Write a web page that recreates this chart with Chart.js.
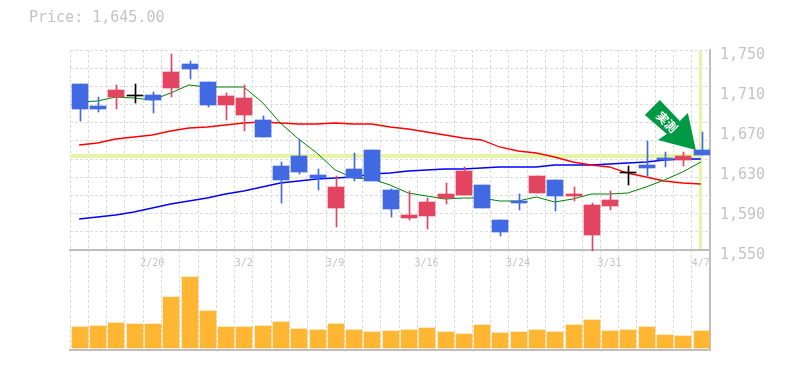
<!DOCTYPE html>
<html>
<head>
<meta charset="utf-8">
<script src="https://cdn.jsdelivr.net/npm/chart.js@4"></script>
<style>
  body { margin: 0; background: #fff; }
  canvas { display: block; }
</style>
</head>
<body>
<canvas id="stock-chart" width="785" height="370"></canvas>
<script>
const dates = ['', '', '', '', '2/20', '', '', '', '', '3/2', '', '', '', '', '3/9', '', '', '', '', '3/16',
  '', '', '', '', '3/24', '', '', '', '', '3/31', '', '', '', '', '4/7'];

const opens = [1716, 1694, 1703, 1704, 1705, 1712, 1736, 1718, 1695, 1685, 1680, 1634, 1644, 1625, 1592, 1631, 1650, 1610,
  1582, 1584, 1602, 1605, 1615, 1580, 1599, 1607, 1620, 1604, 1565, 1594, 1627, 1635, 1642, 1640, 1650];
const closes = [1691, 1691, 1710, 1704, 1700, 1728, 1731, 1695, 1704, 1702, 1663, 1620, 1628, 1622, 1613, 1622, 1619, 1591,
  1585, 1598, 1606, 1629, 1592, 1568, 1597, 1624, 1604, 1606, 1595, 1600, 1627, 1632, 1640, 1644, 1645];
const highs = [1716, 1703, 1715, 1716, 1708, 1746, 1739, 1718, 1707, 1715, 1684, 1638, 1661, 1631, 1624, 1647, 1650, 1611,
  1609, 1602, 1617, 1633, 1615, 1580, 1606, 1624, 1620, 1613, 1597, 1609, 1634, 1659, 1648, 1648, 1668];
const lows = [1679, 1688, 1691, 1697, 1687, 1703, 1721, 1693, 1680, 1669, 1663, 1597, 1626, 1610, 1573, 1619, 1619, 1583,
  1580, 1571, 1596, 1605, 1592, 1564, 1590, 1607, 1589, 1599, 1549, 1590, 1615, 1624, 1633, 1634, 1645];

const volumes = [21, 22, 25, 24, 24, 51, 71, 37, 21, 21, 22, 26, 19, 18, 24, 18, 16, 17,
  18, 20, 16, 14, 23, 15, 16, 18, 16, 23, 28, 17, 18, 21, 13, 12, 17];

const shortAverage = [1698, 1699, 1703, 1702, 1700, 1707, 1715, 1713, 1713, 1713, 1698, 1677, 1661, 1647, 1630, 1622, 1621, 1615,
  1607, 1604, 1601, 1602, 1602, 1599, 1599, 1603, 1598, 1601, 1606, 1606, 1607, 1613, 1620, 1628, 1638];
const midAverage = [1655, 1657, 1661, 1663, 1665, 1669, 1672, 1673, 1675, 1677, 1678, 1677, 1676, 1676, 1677, 1676, 1676, 1673,
  1671, 1668, 1665, 1662, 1660, 1653, 1649, 1647, 1643, 1638, 1635, 1633, 1627, 1623, 1619, 1617, 1616];
const longAverage = [1581, 1583, 1585, 1588, 1592, 1596, 1599, 1602, 1606, 1609, 1613, 1617, 1619, 1621, 1622, 1623, 1626, 1627,
  1629, 1630, 1631, 1631, 1632, 1633, 1633, 1633, 1635, 1635, 1635, 1636, 1637, 1638, 1640, 1641, 1641];

const priceTicks = [1550, 1590, 1630, 1670, 1710, 1750];
const lastPrice = 1645;
const signText = '実測';

const UP_COLOR = '#e34460';
const DOWN_COLOR = '#4169e1';
const DOJI_COLOR = '#000000';
const AXIS_COLOR = '#bebebe';
const GRID_COLOR = '#dcdcdc';
const TEXT_COLOR = '#c4c4c4';
const BAND_COLOR = '#e5f5a8';
const MONO = '"DejaVu Sans Mono", monospace';

const candleColors = opens.map((open, i) => {
  if (open === closes[i]) return DOJI_COLOR;
  return closes[i] > open ? UP_COLOR : DOWN_COLOR;
});
// a doji still needs one pixel of body to show up
const bodies = opens.map((open, i) => [open, open === closes[i] ? closes[i] + 1 : closes[i]]);
const wicks = lows.map((low, i) => [low, highs[i]]);

// horizontal grid is 11 even rows over the price panel, not tied to the labels
const gridRows = [];
for (let i = 0; i <= 11; i++) gridRows.push(1550 + i * 200 / 11);

// keep bars on whole pixels so they stay crisp like the original
const snapBars = {
  id: 'snapBars',
  afterDatasetsUpdate(chart) {
    chart.data.datasets.forEach((ds, i) => {
      if (ds.type !== 'bar') return;
      chart.getDatasetMeta(i).data.forEach((bar) => {
        const center = Math.round(bar.x + 0.66);
        bar.x = ds.label === 'wicks' ? center + 0.5 : center;
        bar.y = Math.round(bar.y);
        bar.base = Math.round(bar.base);
      });
    });
  },
};

// last price bands go behind everything
const priceBands = {
  id: 'priceBands',
  beforeDatasetsDraw(chart) {
    const { ctx, scales, chartArea } = chart;
    const x = scales.x.getPixelForValue(dates.length - 1);
    const y = scales.y.getPixelForValue(lastPrice);
    const top = scales.y.getPixelForValue(1750);
    const bottom = scales.y.getPixelForValue(1550);
    ctx.save();
    ctx.fillStyle = BAND_COLOR;
    ctx.fillRect(chartArea.left, Math.round(y) - 1, x + 2 - chartArea.left, 4);
    ctx.fillRect(Math.round(x) - 2, top + 1, 3, bottom - top - 2);
    ctx.restore();
  },
};

// green arrow pointing at the last candle
const arrowSign = {
  id: 'arrowSign',
  afterDatasetsDraw(chart) {
    const { ctx, scales } = chart;
    const tipX = scales.x.getPixelForValue(dates.length - 1) - 5;
    const tipY = scales.y.getPixelForValue(1650);
    const shape = [[0, 0], [-38, -10], [-29, -16], [-51, -35], [-36, -50], [-16, -29], [-8, -37]];
    ctx.save();
    ctx.translate(tipX, tipY);
    ctx.fillStyle = '#009944';
    ctx.beginPath();
    shape.forEach(([x, y], i) => (i ? ctx.lineTo(x, y) : ctx.moveTo(x, y)));
    ctx.closePath();
    ctx.fill();
    ctx.translate(-29, -28);
    ctx.rotate(Math.PI / 4);
    ctx.fillStyle = '#ffffff';
    ctx.font = 'bold 12px "Noto Sans CJK JP"';
    ctx.textAlign = 'center';
    ctx.textBaseline = 'middle';
    ctx.fillText(signText, 0, 0);
    ctx.restore();
  },
};

new Chart(document.getElementById('stock-chart'), {
  data: {
    labels: dates,
    datasets: [
      { type: 'line', label: 'long', data: longAverage, borderColor: '#0000ff', yAxisID: 'y', order: 5 },
      { type: 'line', label: 'mid', data: midAverage, borderColor: '#ff0000', yAxisID: 'y', order: 4 },
      { type: 'line', label: 'short', data: shortAverage, borderColor: '#008000', borderWidth: 1, yAxisID: 'y', order: 3 },
      { type: 'bar', label: 'wicks', data: wicks, backgroundColor: candleColors, barThickness: 1, yAxisID: 'y', order: 2 },
      { type: 'bar', label: 'bodies', data: bodies, backgroundColor: candleColors, barThickness: 16, yAxisID: 'y', order: 1 },
      { type: 'bar', label: 'volume', data: volumes, backgroundColor: '#ffb733', barThickness: 16, yAxisID: 'volume', order: 6 },
    ],
  },
  options: {
    responsive: false,
    animation: false,
    layout: { padding: { left: 29, right: 0, top: 8, bottom: 20 } },
    datasets: {
      bar: { grouped: false },
      line: { pointRadius: 0, borderWidth: 1.3, tension: 0 },
    },
    plugins: {
      legend: { display: false },
      tooltip: { enabled: false },
      title: {
        display: true,
        text: 'Price: 1,645.00',
        align: 'start',
        color: TEXT_COLOR,
        font: { family: MONO, size: 15, weight: 'normal', lineHeight: 1.2 },
        padding: { top: 1, bottom: 23 },
      },
    },
    scales: {
      x: {
        position: { y: 1550 },
        offset: true,
        grid: { offset: true, color: GRID_COLOR, lineWidth: 1, drawTicks: false },
        border: { color: AXIS_COLOR, width: 2, dash: [3, 2] },
        ticks: {
          autoSkip: false,
          maxRotation: 0,
          padding: 7,
          color: TEXT_COLOR,
          font: { family: MONO, size: 10 },
        },
      },
      bottomLine: {
        axis: 'x',
        type: 'category',
        position: 'bottom',
        grid: { display: false },
        border: { color: AXIS_COLOR, width: 2 },
        ticks: { display: false },
        afterFit(scale) { scale.height = 0; },
      },
      y: {
        position: 'left',
        min: 1450,
        max: 1750,
        afterBuildTicks(scale) { scale.ticks = gridRows.map((value) => ({ value })); },
        grid: { color: GRID_COLOR, lineWidth: 1, drawTicks: false },
        border: { display: false, dash: [3, 2] },
        ticks: { display: false },
        afterFit(scale) { scale.width = 41; },
      },
      volume: {
        display: false,
        min: -2,
        max: 298,
      },
      // price labels sit a little under their level, so this axis runs 5 higher than y
      priceLabels: {
        position: 'right',
        min: 1455,
        max: 1755,
        afterBuildTicks(scale) { scale.ticks = priceTicks.map((value) => ({ value })); },
        grid: { display: false, drawTicks: false },
        border: { color: AXIS_COLOR, width: 2 },
        ticks: {
          padding: 10,
          color: TEXT_COLOR,
          font: { family: MONO, size: 15 },
          callback: (value) => value.toLocaleString('en-US'),
        },
        afterFit(scale) { scale.width = 75; },
      },
    },
  },
  plugins: [snapBars, priceBands, arrowSign],
});
</script>
</body>
</html>
